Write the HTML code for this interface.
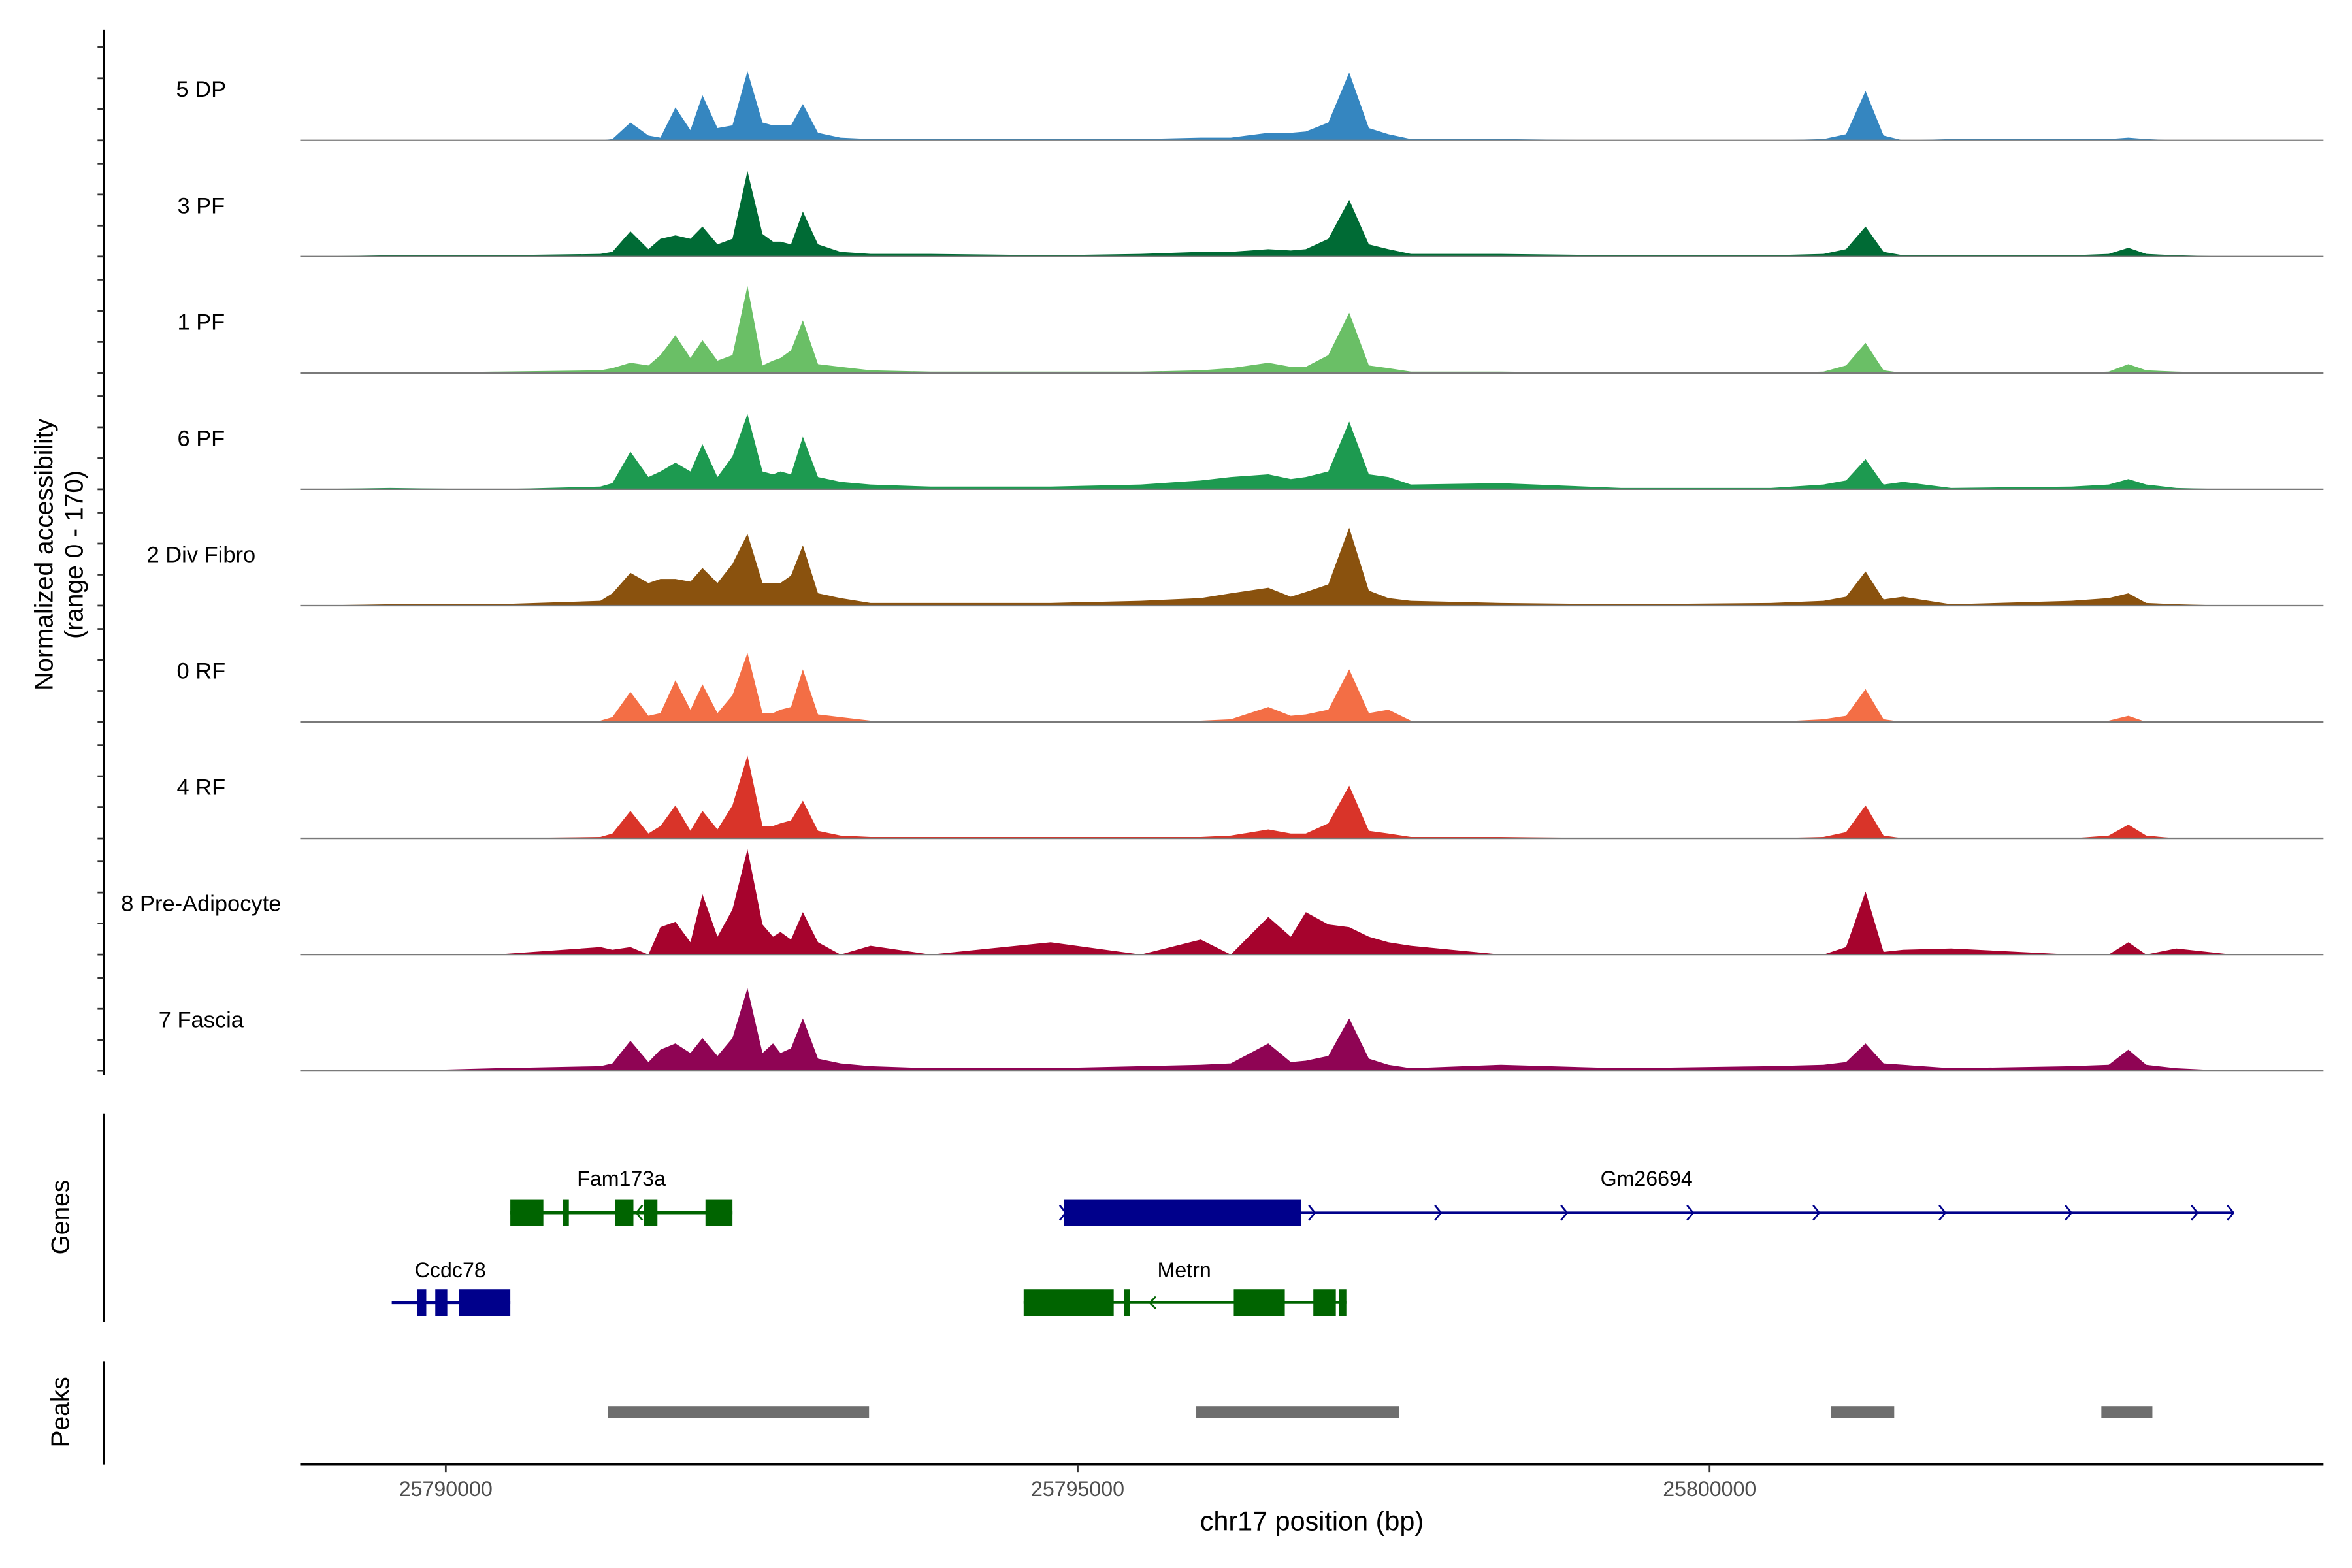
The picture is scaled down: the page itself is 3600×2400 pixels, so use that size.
<!DOCTYPE html>
<html><head><meta charset="utf-8"><style>
html,body{margin:0;padding:0;background:#fff;}
svg{display:block;}
text{font-family:"Liberation Sans Narrow","Liberation Sans",sans-serif;}
.ax{font-family:"Liberation Sans",sans-serif;}
</style></head><body>
<svg id="chart" width="3600" height="2400" viewBox="0 0 1567 1046" preserveAspectRatio="none" xmlns="http://www.w3.org/2000/svg">
<rect width="1567" height="1046" fill="#fff"/>
<g id="tracks"></g>
<g id="left-axis"></g>
<text class="ax" transform="translate(35,370) rotate(-90)" text-anchor="middle" font-size="17">Normalized accessibility</text>
<text class="ax" transform="translate(55,370) rotate(-90)" text-anchor="middle" font-size="17">(range 0 - 170)</text>
<g>
<line x1="69" y1="743" x2="69" y2="882" stroke="#000" stroke-width="1.3"/>
<text class="ax" transform="translate(46,812) rotate(-90)" text-anchor="middle" font-size="17">Genes</text>
<g fill="#006400" stroke="#006400">
<line x1="340" y1="809" x2="488" y2="809" stroke-width="2"/>
<rect x="340" y="800" width="22" height="18" stroke="none"/><rect x="375" y="800" width="4" height="18" stroke="none"/>
<rect x="410" y="800" width="12" height="18" stroke="none"/><rect x="429" y="800" width="9" height="18" stroke="none"/>
<rect x="470" y="800" width="18" height="18" stroke="none"/>
<polyline points="428,804 424,809 428,814" fill="none" stroke-width="1.2"/>
<text x="414" y="791" font-size="14" text-anchor="middle" fill="#000" stroke="none">Fam173a</text></g>
<g fill="#00008b" stroke="#00008b">
<line x1="709" y1="809" x2="1487" y2="809" stroke-width="1.6"/>
<rect x="709" y="800" width="158" height="18" stroke="none"/>
<g fill="none" stroke-width="1.2" id="gmarrows"></g>
<text x="1097" y="791" font-size="14" text-anchor="middle" fill="#000" stroke="none">Gm26694</text></g>
<g fill="#00008b" stroke="#00008b">
<line x1="261" y1="869" x2="340" y2="869" stroke-width="2"/>
<rect x="278" y="860" width="6" height="18" stroke="none"/><rect x="290" y="860" width="8" height="18" stroke="none"/>
<rect x="306" y="860" width="34" height="18" stroke="none"/>
<text x="300" y="852" font-size="14" text-anchor="middle" fill="#000" stroke="none">Ccdc78</text></g>
<g fill="#006400" stroke="#006400">
<line x1="682" y1="869" x2="897" y2="869" stroke-width="1.6"/>
<rect x="682" y="860" width="60" height="18" stroke="none"/><rect x="749" y="860" width="4" height="18" stroke="none"/>
<rect x="822" y="860" width="34" height="18" stroke="none"/><rect x="875" y="860" width="15" height="18" stroke="none"/>
<rect x="892" y="860" width="5" height="18" stroke="none"/>
<polyline points="770,865 766,869 770,873" fill="none" stroke-width="1.2"/>
<text x="789" y="852" font-size="14" text-anchor="middle" fill="#000" stroke="none">Metrn</text></g>
</g>
<g>
<line x1="69" y1="908" x2="69" y2="977" stroke="#000" stroke-width="1.3"/>
<text class="ax" transform="translate(46,942) rotate(-90)" text-anchor="middle" font-size="17">Peaks</text>
<g fill="#6e6e6e">
<rect x="405" y="938" width="174" height="8"/>
<rect x="797" y="938" width="135" height="8"/>
<rect x="1220" y="938" width="42" height="8"/>
<rect x="1400" y="938" width="34" height="8"/>
</g></g>
<g id="xaxis">
<line x1="200" y1="977" x2="1548" y2="977" stroke="#000" stroke-width="1.6"/>
</g>
<text class="ax" x="874" y="1021" font-size="18" text-anchor="middle">chr17 position (bp)</text>
</svg>
<script>
const positions=[25788848,25789561,25790392,25791223,25791318,25791461,25791603,25791698,25791817,25791936,25792031,25792150,25792268,25792387,25792506,25792589,25792648,25792731,25792826,25792945,25793123,25793361,25793836,25794786,25795499,25795974,25796211,25796508,25796686,25796805,25796983,25797149,25797304,25797458,25797636,25798349,25799299,25800486,25800902,25801080,25801234,25801377,25801531,25801911,25802861,25803158,25803313,25803455,25803692,25804132];
const trackNames=["5 DP","3 PF","1 PF","6 PF","2 Div Fibro","0 RF","4 RF","8 Pre-Adipocyte","7 Fascia"];
const trackColors=["#3586c0","#006b35","#6abf66","#1d9a50","#8a520e","#f36e45","#d93429","#a6032d","#8f0454"];
const v5DP=[0,0,0,0,2,26,7,4,48,15,66,18,22,101,26,22,22,22,53,11,4,2,2,2,2,4,4,11,11,13,26,99,18,9,2,2,0,0,2,9,72,7,0,2,2,2,4,2,0,0];
const v3PF=[0,2,2,4,7,37,11,26,31,26,44,18,26,125,33,22,22,18,66,18,7,4,4,2,4,7,7,11,9,11,26,83,18,11,4,4,2,2,4,11,44,7,2,2,2,4,13,4,2,0];
const v1PF=[0,0,2,4,7,15,11,26,55,22,48,18,26,127,11,18,22,33,77,13,9,4,2,2,2,4,7,15,9,9,26,88,11,7,2,2,0,0,2,11,44,4,0,0,0,2,13,4,2,0];
const v6PF=[0,2,0,4,9,55,18,26,39,26,66,18,48,110,26,22,26,22,77,18,11,7,4,4,7,13,18,22,15,18,26,99,22,18,7,9,2,2,7,13,44,7,11,2,4,7,15,7,2,0];
const vDiv=[0,2,2,7,18,48,33,39,39,35,55,33,61,105,33,33,33,44,88,18,11,4,4,4,7,11,18,26,13,20,31,114,22,11,7,4,2,4,7,13,50,9,13,2,7,11,18,4,2,0];
const v0RF=[0,0,0,2,7,44,9,13,61,18,55,13,39,101,13,13,18,22,77,11,7,2,2,2,2,2,4,22,9,11,18,77,13,18,2,2,0,0,4,9,48,4,0,0,0,2,9,0,0,0];
const v4RF=[0,0,0,2,7,40,7,18,48,11,40,13,48,121,18,18,22,26,55,11,4,2,2,2,2,2,4,13,7,7,22,77,11,7,2,2,0,0,2,9,48,4,0,0,0,4,20,4,0,0];
const vPre=[0,0,0,11,7,11,0,40,48,18,88,26,66,154,44,26,33,22,62,18,0,13,0,18,0,22,0,55,26,62,44,40,26,18,13,0,0,0,0,11,92,4,7,9,0,0,18,0,9,0];
const vFas=[0,0,4,7,11,44,13,31,40,26,48,22,48,121,26,40,26,33,77,18,11,7,4,4,7,9,11,40,13,15,22,77,18,9,4,9,4,7,9,13,40,11,9,4,7,9,31,9,4,0];
const trackValues=[v5DP,v3PF,v1PF,v6PF,vDiv,v0RF,v4RF,vPre,vFas];
const xTicks=[25790000,25795000,25800000];
const xTickLabels=["25790000","25795000","25800000"];
const yMax=170;

const NS="http://www.w3.org/2000/svg";
const X0=297,PXPER=421/5000,TOP=16,STEP=77.6;
function x(bp){return X0+(bp-25790000)*PXPER;}
function baseY(i){return TOP+STEP*(i+1);}
function y(v,i){return baseY(i)-v/yMax*STEP;}
function mk(tag,attrs,parent){const e=document.createElementNS(NS,tag);for(const k in attrs)e.setAttribute(k,attrs[k]);parent.appendChild(e);return e;}
const tg=document.getElementById('tracks');
trackNames.forEach((name,i)=>{
  const g=mk('g',{},tg);
  
  
  const vals=trackValues[i];
  let d='M'+x(positions[0])+','+baseY(i);
  vals.forEach((v,j)=>{d+=' L'+x(positions[j]).toFixed(1)+','+y(v,i).toFixed(1);});
  d+=' L'+x(positions[positions.length-1])+','+baseY(i)+' Z';
  const p=mk('path',{d:d,fill:trackColors[i]},g);
  
  
  const l=mk('line',{x1:200,x2:1548,y1:baseY(i),y2:baseY(i),stroke:'#7a7a7a','stroke-width':1},g);
  
  
  const t=mk('text',{x:134,y:baseY(i)-29,'font-size':15,'text-anchor':'middle'},g);
  t.textContent=name;
  
  
});
const la=document.getElementById('left-axis');
mk('line',{x1:69,x2:69,y1:20,y2:717,stroke:'#000','stroke-width':1.3},la);
for(let i=0;i<trackNames.length;i++){for(let k=0;k<4;k++){const yy=baseY(i)-k*STEP/3.75;
  const tk=mk('line',{x1:65,x2:69,y1:yy,y2:yy,stroke:'#333','stroke-width':1.2},la);
  
  }}
const xa=document.getElementById('xaxis');
xTicks.forEach((t,i)=>{
  const tk=mk('line',{x1:x(t),x2:x(t),y1:977,y2:982,stroke:'#333','stroke-width':1.2},xa);
  
  
  const lb=mk('text',{x:x(t),y:998,'font-size':14,'text-anchor':'middle',fill:'#4d4d4d'},xa);
  lb.textContent=xTickLabels[i];
  
  
});
const ga=document.getElementById('gmarrows');
[709,875,959,1043,1127,1211,1295,1379,1463,1487].forEach(ax=>{mk('polyline',{points:(ax-3)+',804 '+(ax+1)+',809 '+(ax-3)+',814'},ga);});
</script>
</body></html>
